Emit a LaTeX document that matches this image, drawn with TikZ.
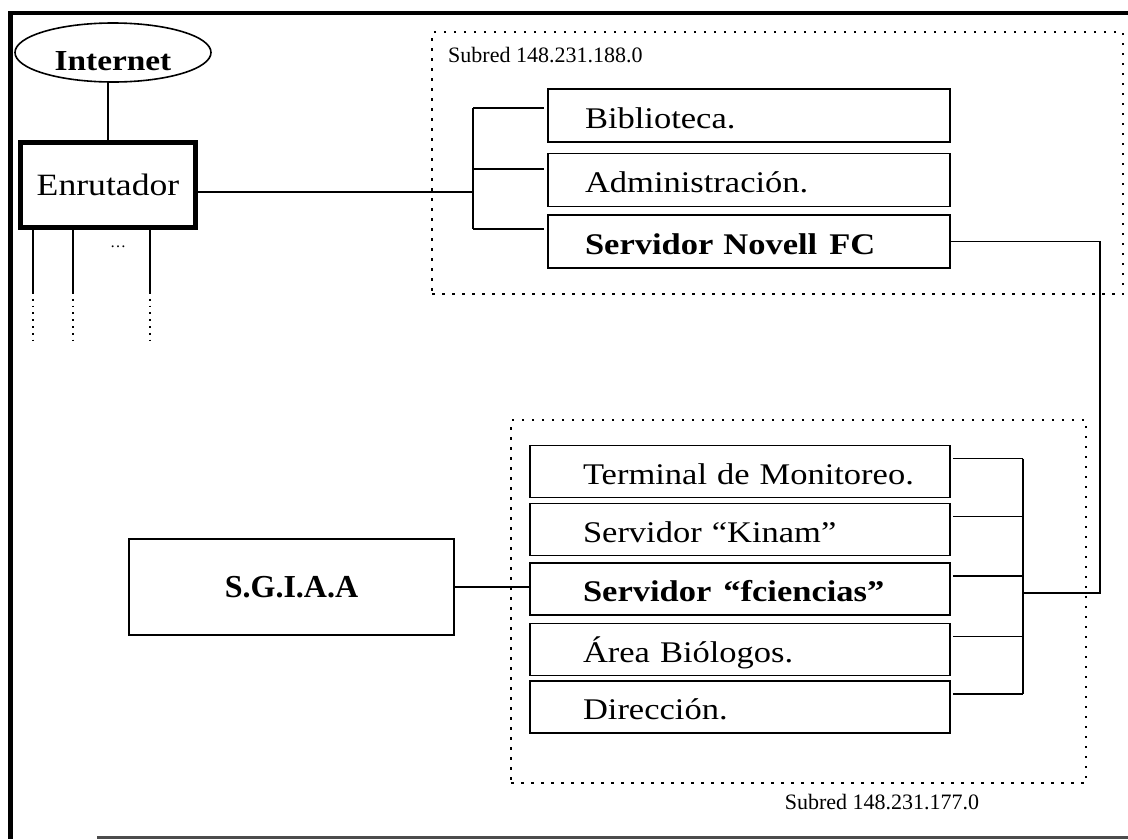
\documentclass[tikz,border=0pt]{standalone}
\usepackage{fontspec}
\setmainfont[FakeStretch=1.15]{Liberation Serif}
\newfontfamily\labfont{Liberation Serif}
\usetikzlibrary{calc,shapes.geometric}
\begin{document}
\begin{tikzpicture}[x=1pt,y=-1pt,
  txt/.style={font=\fontsize{30}{32}\selectfont},
  box/.style={draw, line width=1.7pt, minimum height=53pt, align=left, txt,
              inner xsep=0pt, text height=25pt, text depth=0pt},
  boxa/.style={box, text width=402pt, execute at begin node={\hspace*{37pt}}},
  boxb/.style={box, text width=420pt, minimum height=52pt, execute at begin node={\hspace*{53pt}}},
  conn/.style={line width=1.5pt},
  subnet/.style={draw, line width=2.5pt, dash pattern=on 2.5pt off 7.5pt},
  sublabel/.style={font=\labfont\fontsize{22}{24}\selectfont, inner sep=0pt},
]
\useasboundingbox (0,0) rectangle (1128,839);

% outer frame
\draw[line width=4.5pt] (10.5,839) -- (10.5,13) -- (1128,13);
\draw[line width=3pt, black!70] (97,837) -- (1128,837);

% subnet areas
\node[subnet, minimum width=691pt, minimum height=262pt, inner sep=0pt] (sub1) at (777.5,163) {};
\node[subnet, minimum width=575pt, minimum height=363pt, inner sep=0pt] (sub2) at (798.5,601.5) {};
\node[sublabel, anchor=west] (lab1) at (448,55) {Subred 148.231.188.0};
\node[sublabel] (lab2) at (882,802) {Subred 148.231.177.0};

% internet and router
\node[draw, ellipse, line width=1.6pt, minimum width=196pt, minimum height=59pt, inner sep=0pt,
      text height=36pt, text depth=0pt,
      font=\bfseries\fontsize{29}{30}\selectfont] (inet) at (113,52.5) {Internet};
\node[draw, line width=5pt, minimum width=175pt, minimum height=85pt, inner sep=0pt,
      font=\fontsize{31}{33}\selectfont] (router) at (108,185) {Enrutador};
\draw[conn] (inet.south -| router.north) -- (router.north);
\node[font=\labfont\fontsize{16}{18}\selectfont, inner sep=0pt] (dots) at (118,247) {\dots};
\foreach \x in {33,73,150}{
  \coordinate (a\x) at (\x,228);
  \coordinate (b\x) at (\x,292);
  \coordinate (c\x) at (\x,345);
  \draw[conn] (a\x) -- (b\x);
  \draw[line width=1.8pt, dash pattern=on 1.8pt off 5pt] (b\x) -- (c\x);
}

% subnet 1 boxes
\node[boxa] (bib) at (749,115.5) {Biblioteca.};
\node[boxa] (adm) at (749,180) {Administración.};
\node[boxa, font=\bfseries\fontsize{30}{32}\selectfont] (nov) at (749,241.5) {Servidor Novell\hspace{0.4em}FC};

\coordinate (lb) at (473,0);
\coordinate (s1) at ($(bib.north west)+(-3,20)$);
\coordinate (s2) at ($(adm.north west)+(-3,16.5)$);
\coordinate (s3) at ($(nov.north west)+(-3,15)$);
\foreach \s in {s1,s2,s3}{ \draw[conn] (\s -| lb) -- (\s); }
\draw[conn] (s1 -| lb) -- (s3 -| lb);
\coordinate (re) at ($(router.east)+(0,7)$);
\draw[conn] (re) -- (re -| lb);

% subnet 2 boxes
\node[boxb] (term) at (740,471.5) {Terminal de Monitoreo.};
\node[boxb] (kin) at (740,529.5) {Servidor “Kinam”};
\node[boxb, font=\bfseries\fontsize{30}{32}\selectfont] (fc) at (740,589) {Servidor\hspace{0.4em}“fciencias”};
\node[boxb] (area) at (740,649.5) {Área Biólogos.};
\node[boxb] (dir) at (740,707) {Dirección.};

\coordinate (rb) at (1023,0);
\coordinate (rx) at (1100,0);
\foreach \b [count=\i] in {term,kin,fc,area,dir}{
  \coordinate (t\i) at ($(\b.north east)+(2,14)$);
  \draw[conn] (t\i) -- (t\i -| rb);
}
\draw[conn] (t1 -| rb) -- (t5 -| rb);
\coordinate (j) at ($(fc.east -| rb)+(0,4)$);
\draw[conn] (nov.east) -| (rx |- j) -- (j);

% SGIAA
\node[draw, line width=1.7pt, minimum width=325pt, minimum height=96pt, inner sep=0pt,
      font=\labfont\bfseries\fontsize{32}{34}\selectfont] (sg) at (291.5,587) {S.G.I.A.A};
\draw[conn] (sg.east) -- (sg.east -| fc.west);
\end{tikzpicture}
\end{document}
